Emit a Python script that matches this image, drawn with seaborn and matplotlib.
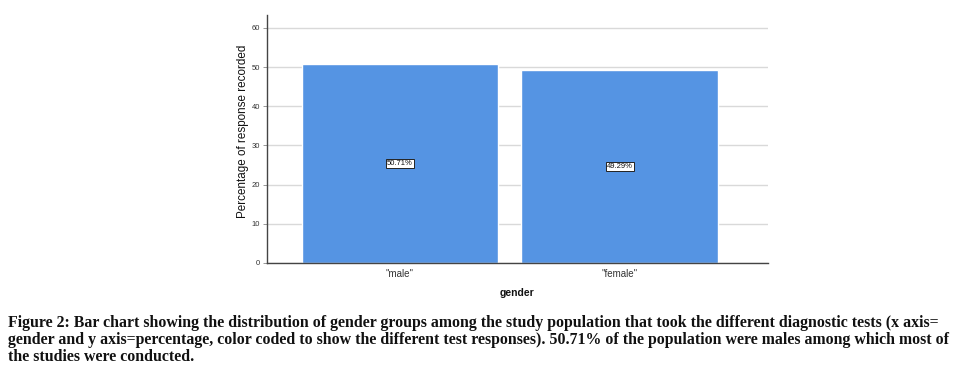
import matplotlib
matplotlib.use("Agg")
import matplotlib.pyplot as plt
import seaborn as sns
import pandas as pd

categories = ['"male"', '"female"']
percentages = [50.71, 49.29]
bar_labels = ["50.71%", "49.29%"]
y_ticks = [0, 10, 20, 30, 40, 50, 60]

caption = ("Figure 2: Bar chart showing the distribution of gender groups among the study population that took the different diagnostic tests (x axis=\n"
           "gender and y axis=percentage, color coded to show the different test responses). 50.71% of the population were males among which most of\n"
           "the studies were conducted.")

sns.set_theme(style="white")
plt.rcParams['font.family'] = ['Liberation Sans', 'DejaVu Sans']

df = pd.DataFrame({"gender": categories, "pct": percentages})

fig = plt.figure(figsize=(9.78, 3.75), dpi=100)
ax = fig.add_axes([0.273, 0.2987, 0.512, 0.6613])

sns.barplot(data=df, x="gender", y="pct", color="#5594E3", saturation=1,
            width=0.895, ax=ax, zorder=2)

ax.set_ylim(0, 63.3)
ax.set_xlim(-0.605, 1.673)
ax.set_yticks(y_ticks)
ax.set_yticklabels([str(t) for t in y_ticks], fontsize=5.5, color="#333333")
ax.tick_params(axis="x", labelsize=7, colors="#333333", length=0, pad=4)
ax.tick_params(axis="y", length=3, width=0.6, color="#888888", pad=2, left=True)
ax.yaxis.grid(True, color="#d9d9d9", linewidth=1, zorder=0)
ax.set_axisbelow(True)

for s in ["top", "right"]:
    ax.spines[s].set_visible(False)
for s in ["left", "bottom"]:
    ax.spines[s].set_color("#444444")
    ax.spines[s].set_linewidth(1)

ax.set_xlabel("gender", fontsize=7.5, fontweight="bold", color="#111111", labelpad=7)
ax.set_ylabel("Percentage of response recorded", fontsize=8.4, color="#111111")
ax.yaxis.set_label_coords(-0.036, 0.53)

for i, (v, lab) in enumerate(zip(percentages, bar_labels)):
    ax.text(i, v / 2, lab, ha="center", va="center", fontsize=5.5, color="#111111",
            bbox=dict(boxstyle="square,pad=0.15", facecolor="white", edgecolor="#222222", linewidth=0.7),
            zorder=5)

fig.text(0.008, 0.093, caption, ha="left", va="center", fontsize=11.4,
         fontweight="bold", family=["Liberation Serif", "DejaVu Serif"],
         color="#111111", linespacing=1.1)

fig.savefig("out.png", dpi=100)
